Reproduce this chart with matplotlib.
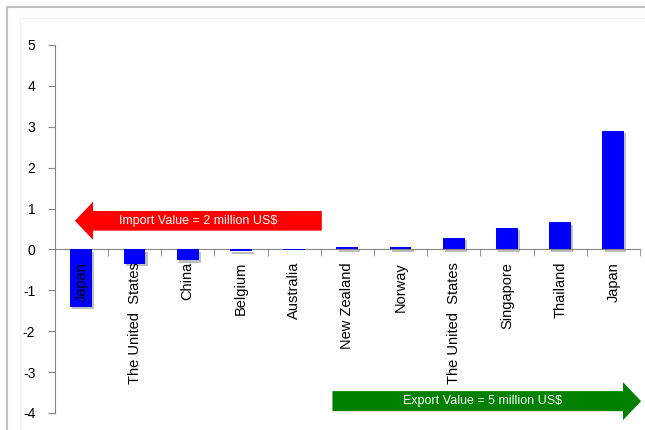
import matplotlib
matplotlib.use("Agg")
import matplotlib.pyplot as plt
from matplotlib.patches import FancyArrow
from matplotlib.lines import Line2D
from matplotlib import patheffects as pe
from matplotlib import font_manager as fm

countries = ["Japan", "The United  States", "China", "Belgium", "Australia",
             "New Zealand", "Norway", "The United  States", "Singapore",
             "Thailand", "Japan"]
values = [-1.40, -0.36, -0.27, -0.05, -0.02, 0.05, 0.07, 0.27, 0.52, 0.66, 2.90]
yticks = [-4, -3, -2, -1, 0, 1, 2, 3, 4, 5]
import_text = "Import Value = 2 million US$"
export_text = "Export Value = 5 million US$"

names = {f.name for f in fm.fontManager.ttflist}
base_font = "Liberation Sans" if "Liberation Sans" in names else "DejaVu Sans"
narrow_font = "Liberation Sans Narrow" if "Liberation Sans Narrow" in names else base_font
plt.rcParams['font.family'] = [base_font, 'DejaVu Sans']

W, H = 645, 430
fig = plt.figure(figsize=(W / 100, H / 100), dpi=100)
fig.patch.set_facecolor("white")

# outer frame
fig.add_artist(Line2D([7 / W, 7 / W], [0, 1 - 7 / H], color="#bfbfbf", lw=1.5, transform=fig.transFigure))
fig.add_artist(Line2D([7 / W, 1], [1 - 7 / H, 1 - 7 / H], color="#bfbfbf", lw=1.5, transform=fig.transFigure))
fig.add_artist(Line2D([20 / W, 20 / W], [0, 1 - 18 / H], color="#f2f2f2", lw=1, transform=fig.transFigure))
fig.add_artist(Line2D([20 / W, 1], [1 - 18 / H, 1 - 18 / H], color="#f2f2f2", lw=1, transform=fig.transFigure))

left, right, top, bottom = 54.7, 640, 45, 413
ax = fig.add_axes([left / W, 1 - bottom / H, (right - left) / W, (bottom - top) / H])

x = list(range(len(countries)))
bars = ax.bar(x, values, width=0.41, color="#0000ff", zorder=3)
for b in bars:
    b.set_path_effects([pe.SimplePatchShadow(offset=(1.5, -1.5), shadow_rgbFace="#808080", alpha=0.5), pe.Normal()])

ax.set_xlim(-0.5, len(countries) - 0.5)
ax.set_ylim(-4, 5)
ax.set_yticks(yticks)
ax.set_yticklabels([str(v) for v in yticks], fontsize=10)

for s in ["top", "right"]:
    ax.spines[s].set_visible(False)
ax.spines["left"].set_color("#868686")
ax.spines["bottom"].set_color("#868686")
ax.spines["bottom"].set_position(("data", 0))
ax.xaxis.set_zorder(3.5)

ax.set_xticks(x)
ax.set_xticklabels(countries, rotation=90, fontsize=10.5, va="top", ha="center")
ax.set_xticks([i + 0.5 for i in x], minor=True)
ax.tick_params(axis="x", which="major", length=0, pad=9)
ax.tick_params(axis="x", which="minor", length=5, color="#868686", direction="out")
ax.tick_params(axis="y", length=5, color="#868686", pad=9, direction="out")

# arrows
ax.add_patch(FancyArrow(4.52, 0.70, -4.64, 0, width=0.48, head_width=0.93, head_length=0.34,
                        length_includes_head=True, color="#ff0000", lw=0, zorder=4, clip_on=False))
ax.text(2.2, 0.70, import_text, color="white", fontsize=9, family=[narrow_font, 'DejaVu Sans'],
        ha="center", va="center", zorder=5)
ax.add_patch(FancyArrow(4.72, -3.71, 5.80, 0, width=0.49, head_width=0.93, head_length=0.34,
                        length_includes_head=True, color="#008000", lw=0, zorder=4, clip_on=False))
ax.text(7.55, -3.71, export_text, color="white", fontsize=9, family=[narrow_font, 'DejaVu Sans'],
        ha="center", va="center", zorder=5)

fig.savefig("out.png", dpi=100)
